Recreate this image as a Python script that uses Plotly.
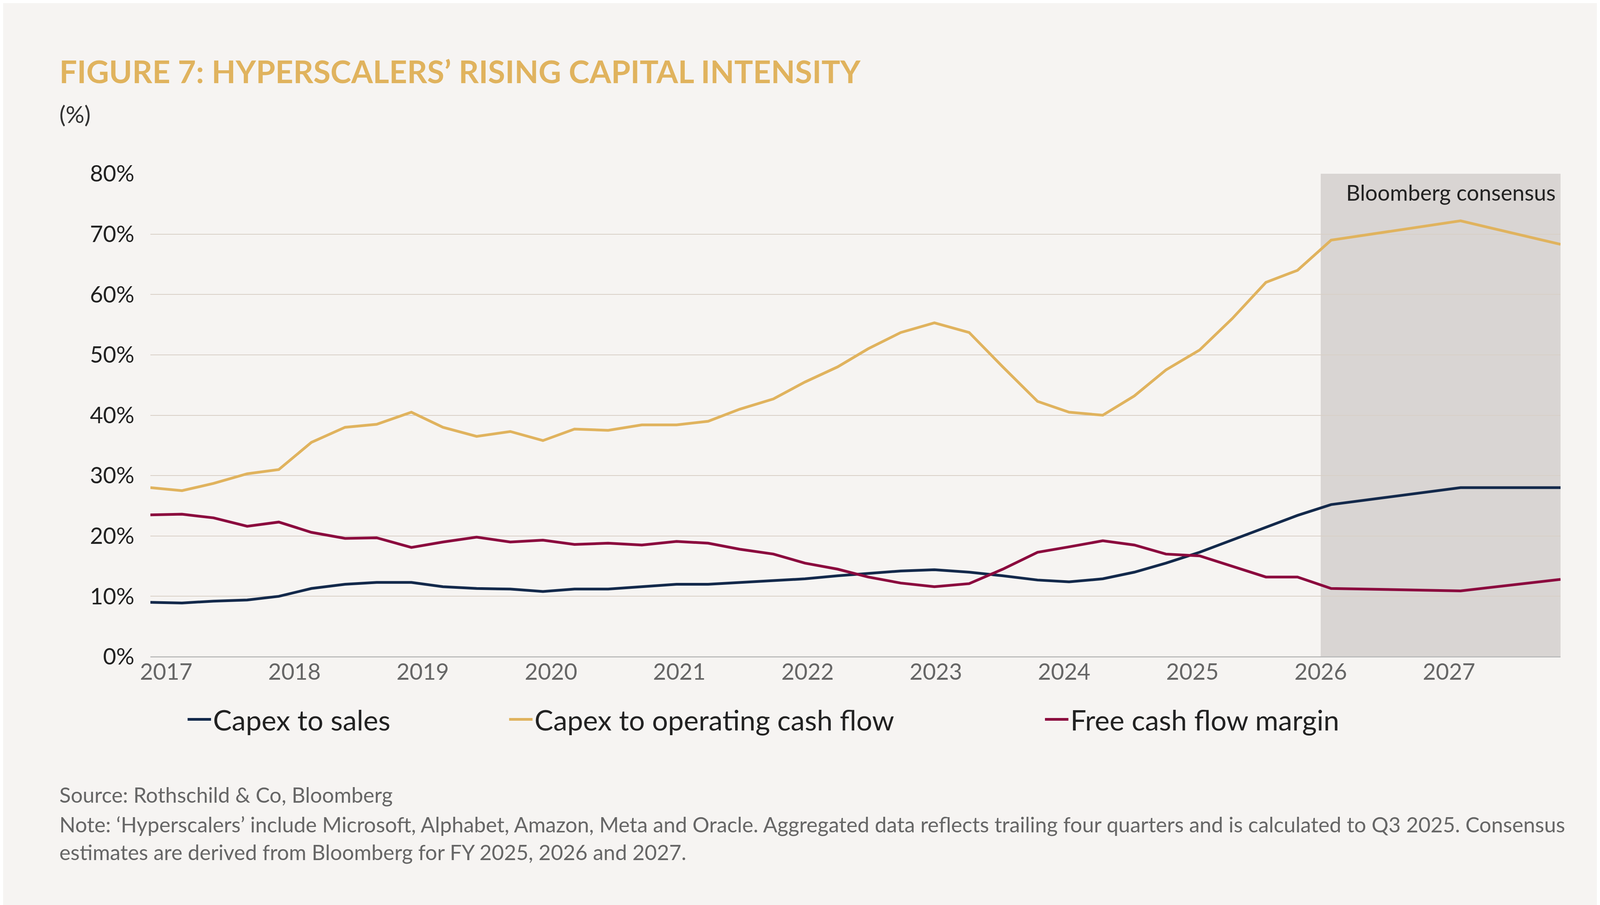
import plotly.graph_objects as go

# x pixel positions converted to decimal years (labels at integer years)
px = [140,170,200,232,262,293,325,355,388,418,450,482,513,543,575,607,640,670,700,732,762,793,822,853,885,918,950,983,1013,1045,1075,1105,1137,1168,1200,1230,1262,1385,1480]
years = [2017 + (p - 155) / 121.9 for p in px]

capex_ocf = [28,27.5,28.7,30.3,31,35.5,38,38.5,40.5,38,36.5,37.3,35.8,37.7,37.5,38.4,38.4,39,41,42.7,45.5,48,51,53.7,55.3,53.7,48,42.3,40.5,40,43.2,47.5,50.8,56,62,64,69,72.2,68.3]
capex_sales = [9,8.9,9.2,9.4,10,11.3,12,12.3,12.3,11.6,11.3,11.2,10.8,11.2,11.2,11.6,12,12,12.3,12.6,12.9,13.4,13.8,14.2,14.4,14,13.4,12.7,12.4,12.9,14,15.5,17.3,19.3,21.4,23.4,25.2,28,28]
fcf_margin = [23.5,23.6,23,21.6,22.3,20.6,19.6,19.7,18.1,19,19.8,19,19.3,18.6,18.8,18.5,19.1,18.8,17.8,17,15.5,14.5,13.2,12.2,11.6,12.1,14.5,17.3,18.2,19.2,18.5,17,16.7,15,13.2,13.2,11.3,10.9,12.8]
tick_years = list(range(2017, 2028))
y_ticks = list(range(0, 81, 10))

NAVY, GOLD, RED = "#13294b", "#e0b35e", "#8b0a3e"
BG = "#f6f4f2"
FONT = "Source Sans Pro, Lato, Open Sans, sans-serif"

fig = go.Figure()
fig.add_trace(go.Scatter(x=years, y=capex_sales, name="Capex to sales", mode="lines", line=dict(color=NAVY, width=7), legend="legend"))
fig.add_trace(go.Scatter(x=years, y=capex_ocf, name="Capex to operating cash flow", mode="lines", line=dict(color=GOLD, width=7), legend="legend2"))
fig.add_trace(go.Scatter(x=years, y=fcf_margin, name="Free cash flow margin", mode="lines", line=dict(color=RED, width=7), legend="legend3"))

fig.add_vrect(x0=2026, x1=years[-1], fillcolor="#d9d5d3", opacity=1, line_width=0, layer="below")

fig.add_annotation(x=years[-1], y=80, xref="x", yref="y", text="Bloomberg consensus", showarrow=False,
                   xanchor="right", yanchor="top", xshift=-10, yshift=-12, font=dict(size=56, color="#222", family=FONT))

fig.add_annotation(x=-0.065, y=1.213, xref="paper", yref="paper", text="<b>FIGURE 7: HYPERSCALERS’ RISING CAPITAL INTENSITY</b>",
                   showarrow=False, xanchor="left", yanchor="middle", font=dict(size=80, color=GOLD, family=FONT))
fig.add_annotation(x=-0.065, y=1.124, xref="paper", yref="paper", text="(%)",
                   showarrow=False, xanchor="left", yanchor="middle", font=dict(size=60, color="#333", family=FONT))
notes = ["Source: Rothschild & Co, Bloomberg",
         "Note: ‘Hyperscalers’ include Microsoft, Alphabet, Amazon, Meta and Oracle. Aggregated data reflects trailing four quarters and is calculated to Q3 2025. Consensus",
         "estimates are derived from Bloomberg for FY 2025, 2026 and 2027."]
for t, yv in zip(notes, [-0.286, -0.347, -0.405]):
    fig.add_annotation(x=-0.065, y=yv, xref="paper", yref="paper", text=t, showarrow=False,
                       xanchor="left", yanchor="middle", font=dict(size=54, color="#666", family=FONT))

leg = dict(orientation="h", y=-0.13, xanchor="left", yanchor="middle",
           font=dict(size=72, color="#222"), bgcolor="rgba(0,0,0,0)", itemwidth=60)
fig.update_layout(
    width=4224, height=2318, paper_bgcolor=BG, plot_bgcolor=BG,
    margin=dict(l=377, r=237, t=437, b=644),
    font=dict(family=FONT, color="#333"),
    showlegend=True,
    legend=dict(leg, x=0.025),
    legend2=dict(leg, x=0.253),
    legend3=dict(leg, x=0.633),
    xaxis=dict(range=[years[0], years[-1]], tickvals=tick_years, ticktext=[str(y) for y in tick_years],
               showgrid=False, zeroline=False, showline=False, ticks="",
               tickfont=dict(size=58, color="#666")),
    yaxis=dict(range=[0, 80], tickvals=y_ticks, ticktext=[f"{v}%" for v in y_ticks],
               showgrid=True, gridcolor="#d8cfc6", gridwidth=2, zeroline=True, zerolinecolor="#bbb",
               zerolinewidth=3, tickfont=dict(size=58, color="#222"), ticklabelstandoff=40),
)
fig.write_html("out.html")
